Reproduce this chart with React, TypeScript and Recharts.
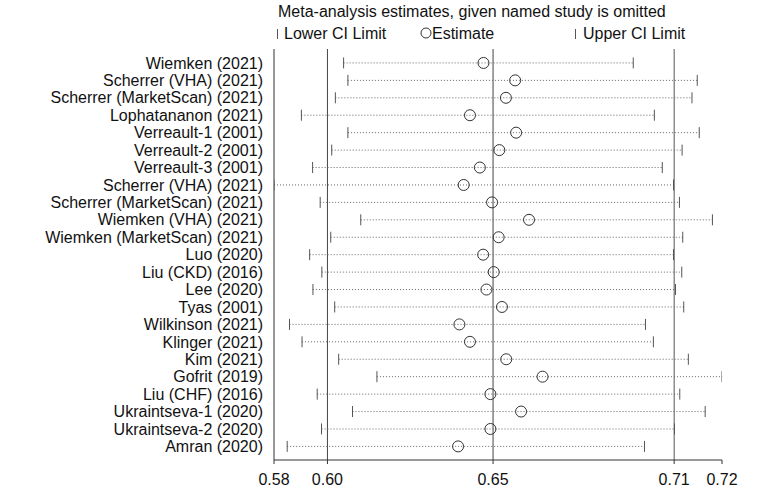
import React from 'react';
import {
  ScatterChart,
  Scatter,
  XAxis,
  YAxis,
  ReferenceLine,
  ErrorBar,
} from 'recharts';

// leave-one-out results, top to bottom
const studies = [
  'Wiemken (2021)',
  'Scherrer (VHA) (2021)',
  'Scherrer (MarketScan) (2021)',
  'Lophatananon (2021)',
  'Verreault-1 (2001)',
  'Verreault-2 (2001)',
  'Verreault-3 (2001)',
  'Scherrer (VHA) (2021)',
  'Scherrer (MarketScan) (2021)',
  'Wiemken (VHA) (2021)',
  'Wiemken (MarketScan) (2021)',
  'Luo (2020)',
  'Liu (CKD) (2016)',
  'Lee (2020)',
  'Tyas (2001)',
  'Wilkinson (2021)',
  'Klinger (2021)',
  'Kim (2021)',
  'Gofrit (2019)',
  'Liu (CHF) (2016)',
  'Ukraintseva-1 (2020)',
  'Ukraintseva-2 (2020)',
  'Amran (2020)',
];

const lowerCI = [
  0.6059, 0.6072, 0.6034, 0.5931, 0.6072, 0.6023, 0.5965, 0.5848, 0.5988, 0.6111, 0.602, 0.5956,
  0.5993, 0.5966, 0.6032, 0.5895, 0.5933, 0.6044, 0.616, 0.5979, 0.6086, 0.5992, 0.5888,
];

const estimates = [
  0.6483, 0.6579, 0.6551, 0.6442, 0.6582, 0.6531, 0.6472, 0.6423, 0.6509, 0.6621, 0.6529, 0.6482,
  0.6514, 0.6492, 0.6539, 0.641, 0.6442, 0.6552, 0.6662, 0.6504, 0.6597, 0.6504, 0.6406,
];

const upperCI = [
  0.6937, 0.7131, 0.7115, 0.7001, 0.7137, 0.7085, 0.7025, 0.7059, 0.7077, 0.7177, 0.7087, 0.7059,
  0.7084, 0.7065, 0.709, 0.6974, 0.6998, 0.7104, 0.7206, 0.7078, 0.7155, 0.7062, 0.6971,
];

// pooled estimate with all studies
const overallLower = 0.601;
const overallEstimate = 0.6512;
const overallUpper = 0.7061;

const xTicks = [0.5848, overallLower, overallEstimate, overallUpper, 0.7206];

const FONT = '"Liberation Sans", Arial, Helvetica, sans-serif';
const rowIds = studies.map((_, i) => i + 1);

const ciRows = studies.map((_, i) => ({
  y: i + 1,
  x: estimates[i],
  err: [estimates[i] - lowerCI[i], upperCI[i] - estimates[i]],
}));
const lowerPts = studies.map((_, i) => ({ y: i + 1, x: lowerCI[i] }));
const upperPts = studies.map((_, i) => ({ y: i + 1, x: upperCI[i] }));
const estPts = studies.map((_, i) => ({ y: i + 1, x: estimates[i] }));

const LimitTick = (props: any) => (
  <line x1={props.cx} x2={props.cx} y1={props.cy - 5.5} y2={props.cy + 5.5} stroke="#555" strokeWidth={1} />
);

const EstCircle = (props: any) => (
  <circle cx={props.cx} cy={props.cy} r={5.5} fill="none" stroke="#333" strokeWidth={1} />
);

const Empty = () => <g />;

const textStyle: React.CSSProperties = {
  position: 'absolute',
  fontFamily: FONT,
  fontSize: 16,
  lineHeight: '16px',
  color: '#111',
  whiteSpace: 'nowrap',
};

export default function App() {
  return (
    <div style={{ position: 'absolute', left: 0, top: 0, width: 768, height: 495, background: '#fff' }}>
      <ScatterChart
        width={768}
        height={495}
        margin={{ top: 49, right: 46, bottom: 5, left: 0 }}
        style={{ fontFamily: FONT }}
      >
        <XAxis
          type="number"
          dataKey="x"
          domain={[xTicks[0], xTicks[4]]}
          allowDataOverflow
          ticks={xTicks}
          tickFormatter={(v: number) => v.toFixed(2)}
          height={30}
          tickSize={4}
          tickMargin={10}
          stroke="#333"
          tick={{ fill: '#111', fontSize: 16 }}
          interval={0}
        />
        <YAxis
          type="number"
          dataKey="y"
          domain={[0.2, 23.78]}
          allowDataOverflow
          reversed
          ticks={rowIds}
          interval={0}
          tickFormatter={(v: number) => studies[v - 1]}
          width={274}
          tickSize={0}
          tickMargin={11}
          tickLine={false}
          stroke="#333"
          tick={{ fill: '#111', fontSize: 16 }}
        />
        <ReferenceLine x={overallLower} stroke="#444" strokeWidth={1} />
        <ReferenceLine x={overallEstimate} stroke="#444" strokeWidth={1} />
        <ReferenceLine x={overallUpper} stroke="#555" strokeWidth={1} />
        <Scatter data={ciRows} shape={Empty} isAnimationActive={false}>
          <ErrorBar
            dataKey="err"
            direction="x"
            width={0}
            stroke="#666"
            strokeWidth={1}
            strokeDasharray="1 2"
            isAnimationActive={false}
          />
        </Scatter>
        <Scatter data={lowerPts} shape={LimitTick} isAnimationActive={false} />
        <Scatter data={upperPts} shape={LimitTick} isAnimationActive={false} />
        <Scatter data={estPts} shape={EstCircle} isAnimationActive={false} />
      </ScatterChart>

      <div style={{ ...textStyle, left: 278, top: 4 }}>
        Meta-analysis estimates, given named study is omitted
      </div>
      <div style={{ position: 'absolute', left: 277, top: 28.5, width: 1, height: 10, background: '#555' }} />
      <div style={{ ...textStyle, left: 284, top: 25.5 }}>Lower CI Limit</div>
      <svg style={{ position: 'absolute', left: 420, top: 27 }} width={12} height={12}>
        <circle cx={6} cy={6} r={5} fill="none" stroke="#333" strokeWidth={1} />
      </svg>
      <div style={{ ...textStyle, left: 432, top: 25.5 }}>Estimate</div>
      <div style={{ position: 'absolute', left: 575, top: 28.5, width: 1, height: 10, background: '#555' }} />
      <div style={{ ...textStyle, left: 583, top: 25.5 }}>Upper CI Limit</div>
    </div>
  );
}
